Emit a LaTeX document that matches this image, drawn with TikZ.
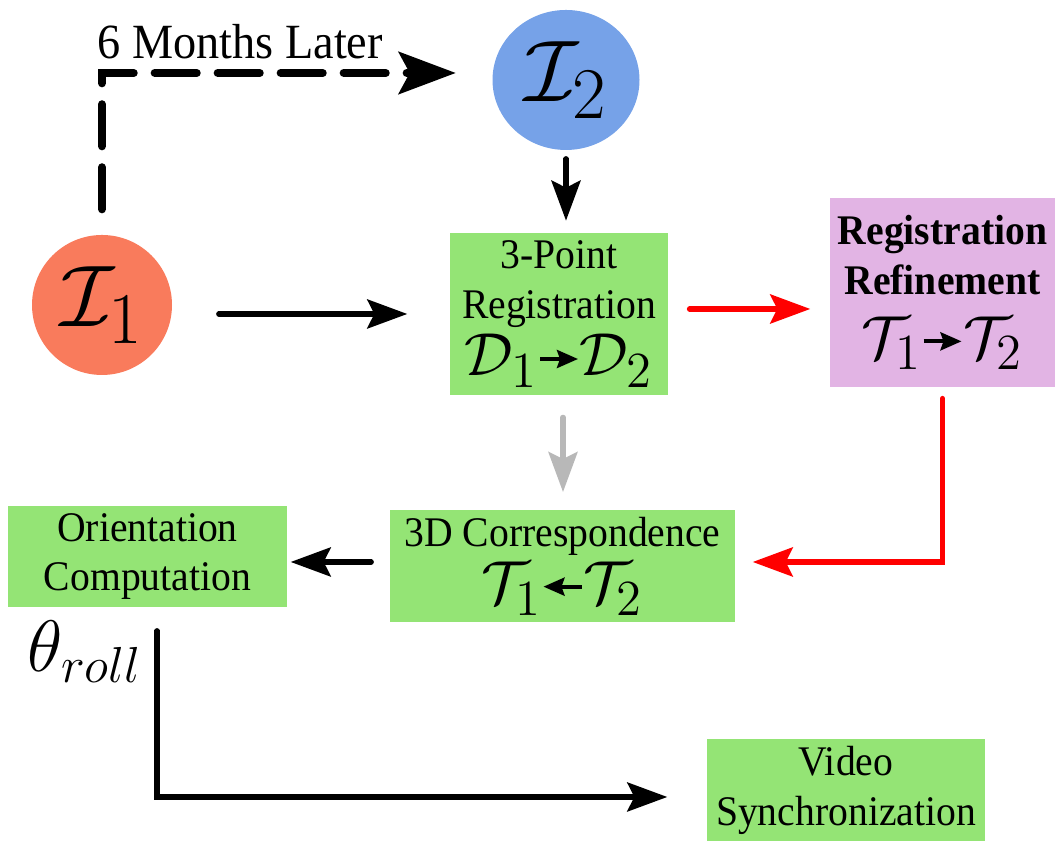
\documentclass[tikz,border=0pt]{standalone}
\usepackage{fontspec}
\setmainfont{Liberation Serif}[FakeStretch=0.94]
\usepackage{xcolor}
\definecolor{disqueCorail}{HTML}{F97B5C}
\definecolor{disqueBleu}{HTML}{76A2E8}
\definecolor{blocVertFond}{HTML}{94E475}
\definecolor{blocMauveFond}{HTML}{E2B4E4}
\definecolor{flecheGrisTrait}{HTML}{B8B8B8}
\usepackage{tikz}
\usetikzlibrary{arrows.meta, positioning, calc, shapes.geometric}
\newcommand{\TexteBloc}{\fontsize{12}{14.2}\selectfont}
\newcommand{\MathBloc}{\fontsize{19}{20}\selectfont}
\newcommand{\flechetteD}{\tikz[baseline=-0.55ex]\draw[-{Stealth[length=2.1mm, width=1.8mm, inset=0.3mm]},
  line width=1.1pt] (0,0) -- (0.38,0);}
\newcommand{\flechetteG}{\tikz[baseline=-0.55ex]\draw[{Stealth[length=2.1mm, width=1.8mm, inset=0.3mm]}-,
  line width=1.1pt] (0,0) -- (0.38,0);}
\tikzset{
  %% ── Boxes ────────────────────────────────────────────────────────────
  %% Flat fills, no border: green for the steps, mauve for the refinement.
  bloc/.style       = {draw=none, fill=blocVertFond, align=center,
                       inner sep=2pt, font=\TexteBloc},
  blocMauve/.style  = {bloc, fill=blocMauveFond},
  disque/.style     = {circle, fill=disqueCorail, inner sep=0pt,
                       font=\fontsize{30}{32}\selectfont},
  %%
  %% ── Arrows ───────────────────────────────────────────────────────────
  fleche/.style       = {-{Stealth[length=4mm, width=2.9mm, inset=0.7mm]}, draw=black,
                         line width=1.45pt, line cap=round},
  flecheRouge/.style  = {fleche, draw=red, line width=1.6pt},
  flecheGrise/.style  = {fleche, draw=flecheGrisTrait},
  flecheTirets/.style = {-{Stealth[length=5.7mm, width=4.2mm, inset=1.1mm]}, draw=black,
                         line width=2.3pt, line cap=round,
                         dash pattern=on 4.2mm off 2.1mm},
  %%
  %% ── Text ─────────────────────────────────────────────────────────────
  etiquette/.style  = {font=\fontsize{14}{16}\selectfont, inner sep=0pt},
}
\begin{document}
\begin{tikzpicture}[x=1cm, y=1cm]
\useasboundingbox (0,0) rectangle (10.62,8.41);

\node[disque, minimum size=1.40cm] (i1) at (1.02, 5.36) {$\mathcal{I}_1$};
\node[disque, ellipse, fill=disqueBleu, minimum width=1.47cm, minimum height=1.40cm]
     (i2) at (5.66, 7.61) {$\mathcal{I}_2$};

\node[bloc, minimum width=2.18cm, minimum height=1.48cm] (reg) at (5.59, 5.27)
     {3-Point\\Registration\\[1pt]{\MathBloc$\mathcal{D}_1\flechetteD\mathcal{D}_2$}};
\node[blocMauve, minimum width=2.25cm, minimum height=1.89cm] (raff) at (9.425, 5.485)
     {\textbf{Registration}\\\textbf{Refinement}\\[4pt]{\MathBloc$\mathcal{T}_1\flechetteD\mathcal{T}_2$}};
\node[bloc, minimum width=3.45cm, minimum height=1.12cm] (corr) at (5.625, 2.75)
     {3D Correspondence\\[1pt]{\MathBloc$\mathcal{T}_1\flechetteG\mathcal{T}_2$}};
\node[bloc, minimum width=2.79cm, minimum height=1.01cm] (orient) at (1.475, 2.845)
     {Orientation\\Computation};
\node[bloc, minimum width=2.78cm, minimum height=0.96cm] (video) at (8.46, 0.51)
     {Video\\Synchronization};

\node[inner sep=0pt, font=\fontsize{20}{22}\selectfont] (theta) at (0.85, 1.89) {$\theta_{roll}$};
\node[etiquette, anchor=west] (delai) at (0.97, 7.99) {6 Months Later};

\draw[flecheTirets] ([yshift=2.5mm]i1.north) |- ([xshift=-3.6mm, yshift=0.7mm]i2.west);
\draw[fleche] ($(i2.south)+(0,-0.08)$) -- ($(i2.south |- reg.north)+(0,0.12)$);
\draw[fleche] ($(i1.east |- reg.west)+(0.46,0)$) -- ($(reg.west)+(-0.42,0)$);
\draw[flecheRouge] ($(reg.east)+(0.21,0.05)$) -- ($(raff.west |- reg.east)+(-0.19,0.05)$);
\draw[flecheRouge] ($(raff.south)+(0,-0.11)$) |- ($(corr.east)+(0.17,0.04)$);
\draw[flecheGrise] ($(reg.south)+(0.04,-0.22)$) -- ($(reg.south |- corr.north)+(0.04,0.17)$);
\draw[fleche] ($(corr.west)+(-0.18,0.04)$) -- ($(orient.east |- corr.west)+(0.03,0.04)$);
\draw[fleche] ($(orient.south)+(0.095,-0.23)$) |- ($(video.west)+(-0.39,-0.07)$);

\end{tikzpicture}
\end{document}
